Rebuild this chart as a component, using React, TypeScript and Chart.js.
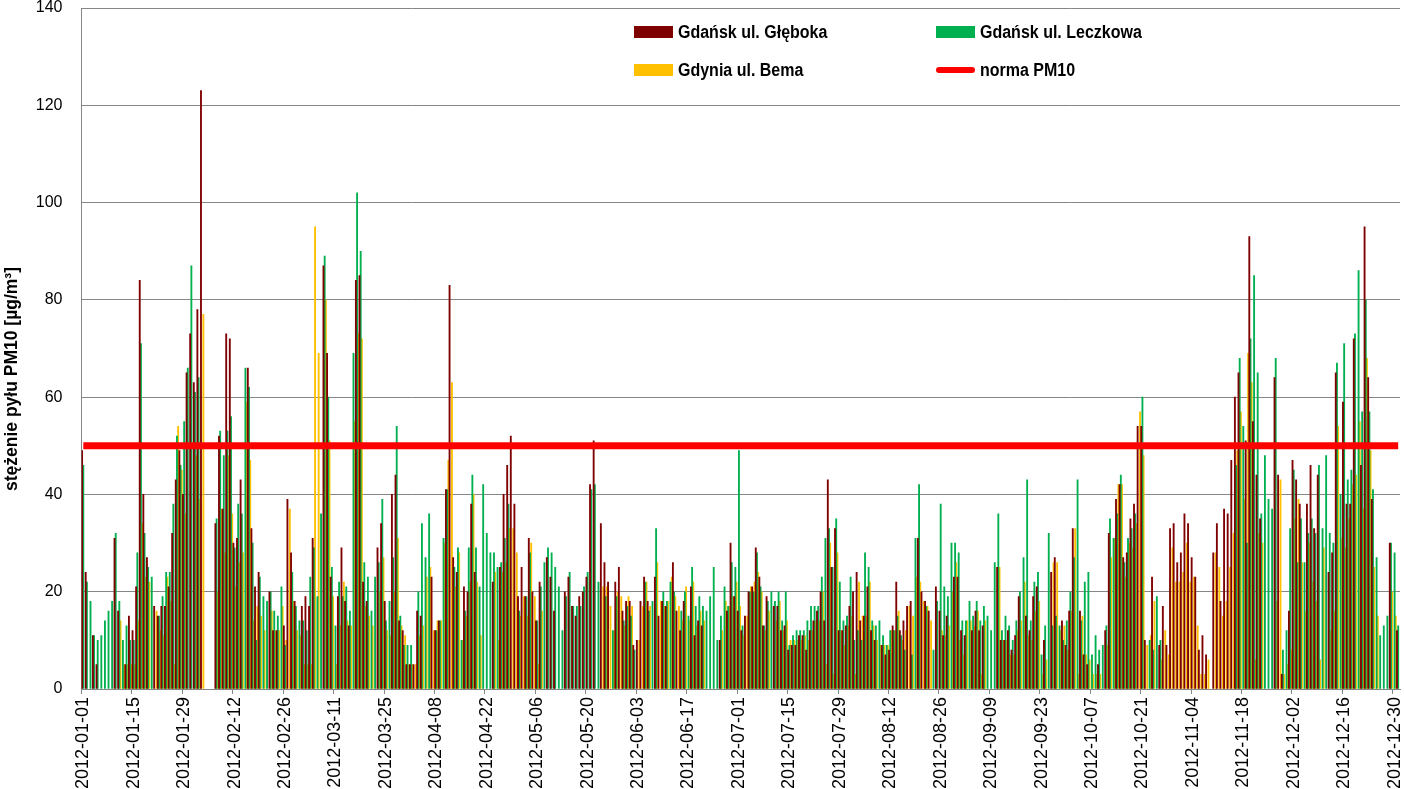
import React, { useEffect, useRef } from "react";
import { Chart, registerables } from "chart.js";

Chart.register(...registerables);

const N = null;

// Categories: every day of 2012
const START_YEAR = 2012;
const DAY_COUNT = 366;
const dayLabels: string[] = [];
for (let d = 0; d < DAY_COUNT; d++) {
  const dt = new Date(START_YEAR, 0, 1 + d);
  const mm = String(dt.getMonth() + 1).padStart(2, "0");
  const dd = String(dt.getDate()).padStart(2, "0");
  dayLabels.push(`${dt.getFullYear()}-${mm}-${dd}`);
}
const LABEL_EVERY = 14;

const seriesNames = ["Gdańsk ul. Głęboka", "Gdańsk ul. Leczkowa", "Gdynia ul. Bema"];
const normName = "norma PM10";
const normValue = 50;
const yTitle = "stężenie pyłu PM10 [µg/m³]";

// Gdańsk ul. Głęboka (daily PM10, µg/m3), by month
const gleboka = [
  // Jan
  49, 24, N, 11, 5, N, N, N, N, 31, 16, N, 5, 15, 12, 21, 84, 40, 27, N, 17, 15, 17, 17, 21, 32, 43, 49, 40, 65, 73,
  // Feb
  63, 78, 123, N, N, N, 34, 52, 37, 73, 72, 30, 31, 43, N, 66, 33, 21, 24, N, N, 20, 12, 12, N, 13, 39, 28, 18,
  // Mar
  N, 17, 19, 17, 31, N, N, 87, 69, 23, N, 19, 29, 18, 13, N, 84, 85, 22, 18, N, N, 29, 34, 18, N, 40, 44, 14, 12, 5,
  // Apr
  5, 5, 16, 15, N, N, 23, 12, 14, N, 41, 83, 27, 24, N, 21, 20, 38, 24, N, N, N, N, 22, N, 25, 40, 46, 52, 38,
  // May
  19, 25, 19, 31, 20, 14, 22, N, 27, 23, 16, N, N, 20, 23, 17, 15, 19, 20, 23, 42, 51, N, 34, 26, 22, N, 22, 25, 16, 18,
  // Jun
  18, 9, 10, 18, 23, 18, N, 23, 15, 18, 17, N, 26, 16, 12, 18, N, 21, 11, 14, 13, N, N, N, N, 10, N, 16, 30, 19,
  // Jul
  16, 12, 15, 20, 21, 29, 23, 13, 19, N, 17, 17, 12, 13, 8, 9, 9, 11, 11, 8, 12, 14, 16, 20, 14, 43, 25, 33, 12, 12, 13,
  // Aug
  17, 20, 24, 14, 15, 21, 12, 10, N, 9, 7, 8, 13, 22, 12, 14, 17, 18, N, 31, 20, 18, 16, N, 21, 16, 11, 15, N, 23, 23,
  // Sep
  12, 11, N, 12, 16, 12, 13, N, N, N, 25, 10, 10, 12, 8, 11, 19, N, 15, 12, 19, 21, N, 10, N, 24, 27, N, 14, 9,
  // Oct
  16, 33, N, 16, 7, 5, N, N, 5, N, 12, 32, N, 39, 42, 27, 28, 35, 38, 54, 54, 10, N, 23, N, 9, 17, 9, 33, 34, 26,
  // Nov
  28, 36, 34, 27, 23, 8, 11, 7, N, 28, 34, 18, 37, 36, 47, 60, 65, N, 51, 93, 55, 44, 35, N, N, N, 64, 44, 3, N,
  // Dec
  16, 47, 43, 38, N, 38, 46, 33, 44, N, N, 24, 28, 65, N, 59, 38, 38, 72, N, 46, 95, 64, 39, N, N, N, N, 30, N, 12,
];

// Gdańsk ul. Leczkowa
const leczkowa = [
  // Jan
  46, 22, 18, 11, 10, 11, 14, 16, 18, 32, 18, 10, 13, 10, 10, 28, 71, 32, 25, 23, N, 15, 19, 24, 24, 38, 52, 46, 55, 66, 87,
  // Feb
  61, 64, N, N, N, N, 35, 53, 48, 53, 56, 29, 38, 36, 66, 62, 30, 10, 23, 19, 18, 20, 16, 15, 21, 9, N, 24, 17,
  // Mar
  14, 14, 12, 23, 29, 19, 36, 89, 60, 25, 13, 22, 19, 21, 16, 69, 102, 90, 26, 23, 16, 23, 26, 39, 14, 18, 27, 54, 15, 9, 9,
  // Apr
  9, N, 20, 34, 27, 36, N, 12, 14, 31, 41, N, 25, 29, 10, 16, 29, 44, 29, 21, 42, 32, 28, 28, 25, 26, 31, 38, N, N,
  // May
  16, N, 19, 28, N, 14, 21, 26, 29, 28, 25, 21, 12, 19, 24, 17, 17, 17, 21, 24, 41, 42, 22, N, 19, N, 12, 19, N, 14, 17,
  // Jun
  15, 8, N, N, 22, 16, 18, 33, N, 20, 18, 22, 20, N, 16, 20, 15, 25, 17, 19, 17, 16, 19, 25, 10, 15, 21, 17, 26, 25,
  // Jul
  49, 13, N, 20, 20, 28, 21, 13, 18, 20, 18, 20, 14, 20, 9, 11, 12, 12, 12, 14, 17, 17, 17, 23, 31, 33, 25, 35, 22, 14, 15,
  // Aug
  23, 10, 12, 10, 28, 25, 14, 13, 14, 11, 9, 12, 12, 15, 11, 8, N, 7, 31, 42, N, 17, N, 8, 18, 38, 21, 19, 30, 30, 28,
  // Sep
  14, 14, 18, 15, 18, 14, 17, 15, 12, 26, 36, 12, 15, 13, 10, 14, 20, 27, 43, 14, 22, 24, 7, 13, 32, 13, 15, 13, 10, 14,
  // Oct
  20, 27, 43, 14, 22, 24, 7, 11, 8, 9, 13, 35, 31, 36, 44, 26, 31, 33, 36, N, 60, N, 10, 8, 19, 10, N, N, N, N, N,
  // Nov
  N, N, N, N, N, N, N, N, N, N, N, N, N, N, N, 46, 68, 54, 30, 72, 85, 65, 36, 48, 39, 37, 68, N, 8, 12,
  // Dec
  33, 45, 26, 35, 26, 32, 35, 32, 46, 33, 48, 32, 30, 67, 40, 71, 43, 45, 73, 86, 57, 80, 57, 41, 27, 11, 13, 15, 30, 28, 13,
];

// Gdynia ul. Bema
const bema = [
  // Jan
  N, N, N, N, N, N, N, N, N, N, 14, 5, 5, 5, 5, 14, 34, 23, 22, N, 16, 12, 11, 23, 18, 5, 54, 45, 36, N, N,
  // Feb
  48, 39, 77, N, N, N, 20, 37, 28, 48, 36, 21, 26, 28, 59, 47, 14, 17, 15, 12, N, 16, 12, 12, 17, 10, 37, 18, 12,
  // Mar
  11, 5, 5, 5, 95, 69, N, 80, 51, 19, 5, 13, 22, 14, 13, 55, 73, 72, 17, 15, 13, N, 20, 27, 12, 11, 20, 31, 13, 11, 5,
  // Apr
  5, 5, 11, 13, 23, 25, 12, 14, 14, 30, 47, 63, 21, 28, 10, 15, 22, 40, 22, 11, N, N, N, 24, 10, 24, 26, 33, 33, 28,
  // May
  15, 19, 15, 30, 19, 5, 16, N, N, N, N, N, N, N, N, N, N, N, N, N, N, N, N, 21, 21, 17, 12, 20, 19, 13, 19,
  // Jun
  17, N, 10, 17, 22, 17, N, 26, 18, 17, 18, 23, 19, 17, 14, 21, 14, 22, 13, 16, 14, N, N, N, N, 12, 18, 17, 19, 22,
  // Jul
  17, 11, 15, 21, 22, 24, 20, 12, 16, N, 14, 18, 12, 14, 10, 10, 10, 10, 11, 10, 12, 14, 14, 20, 5, 30, 3, 28, 12, 9, 13,
  // Aug
  15, 3, 22, 15, 15, 22, 13, 10, 9, 9, 9, 12, 12, 16, 10, 12, 17, 15, 23, 22, 18, 17, 14, N, N, 12, 11, 13, 20, 26, 10,
  // Sep
  7, 14, 14, 13, 16, 3, 14, N, N, N, 25, 10, 10, 7, 7, 12, 14, 22, 11, 10, 16, 18, 3, 6, N, 26, 26, 12, 13, 8,
  // Oct
  16, 33, 3, 15, 7, 6, 3, 3, 3, N, 9, 27, 31, 42, 42, 23, 30, 29, 34, 57, 48, 9, 11, 18, N, 6, 12, 7, 29, 22, 22,
  // Nov
  24, 30, 22, 23, 13, 3, 3, 6, N, 28, 25, 15, 18, 25, 32, 49, 57, 39, 69, 63, 6, 32, 30, N, N, N, 18, 43, 3, 5,
  // Dec
  8, 35, 39, 26, 16, 30, 22, 18, 6, 29, N, 12, 16, 54, 31, 29, 35, 42, 44, 55, 37, 68, 49, 25, 15, N, N, N, 20, 15, N,
];

const normLine = dayLabels.map(() => normValue);

const colors = {
  gleboka: "#7F0000",
  leczkowa: "#00B050",
  bema: "#FFC000",
  norm: "#FF0000",
  grid: "#868686",
};

const REGULAR = '"Liberation Sans", Arial, sans-serif';

const legendPlugin = {
  id: "customLegend",
  afterDraw(chart: any) {
    const ctx = chart.ctx;
    ctx.save();
    const items = [
      { x: 634, y: 32, kind: "box", color: colors.gleboka, text: seriesNames[0] },
      { x: 936, y: 32, kind: "box", color: colors.leczkowa, text: seriesNames[1] },
      { x: 634, y: 70, kind: "box", color: colors.bema, text: seriesNames[2] },
      { x: 936, y: 70, kind: "line", color: colors.norm, text: normName },
    ];
    for (const it of items) {
      if (it.kind === "box") {
        ctx.fillStyle = it.color;
        ctx.fillRect(it.x, it.y - 6, 39, 12);
      } else {
        ctx.strokeStyle = it.color;
        ctx.lineWidth = 6;
        ctx.lineCap = "round";
        ctx.beginPath();
        ctx.moveTo(it.x + 3, it.y);
        ctx.lineTo(it.x + 36, it.y);
        ctx.stroke();
      }
      ctx.save();
      ctx.translate(it.x + 44, it.y + 1);
      ctx.scale(1, 1.15);
      ctx.font = `bold 16px ${REGULAR}`;
      ctx.textBaseline = "middle";
      ctx.textAlign = "left";
      ctx.fillStyle = "#000";
      ctx.fillText(it.text, 0, 0);
      ctx.restore();
    }
    // y-axis title
    ctx.save();
    ctx.translate(12, 379);
    ctx.rotate(-Math.PI / 2);
    ctx.font = `bold 17.5px ${REGULAR}`;
    ctx.textBaseline = "middle";
    ctx.textAlign = "center";
    ctx.fillStyle = "#000";
    ctx.fillText(yTitle, 0, 0);
    ctx.restore();
    ctx.restore();
  },
};

export default function App() {
  const canvasRef = useRef<HTMLCanvasElement | null>(null);

  useEffect(() => {
    if (!canvasRef.current) return;
    const chart = new Chart(canvasRef.current, {
      type: "bar",
      data: {
        labels: dayLabels,
        datasets: [
          {
            type: "line",
            label: normName,
            data: normLine,
            borderColor: colors.norm,
            borderWidth: 7,
            pointRadius: 0,
            order: 0,
          } as any,
          {
            label: seriesNames[0],
            data: gleboka,
            backgroundColor: colors.gleboka,
            categoryPercentage: 1,
            barPercentage: 1,
            order: 1,
          },
          {
            label: seriesNames[1],
            data: leczkowa,
            backgroundColor: colors.leczkowa,
            categoryPercentage: 1,
            barPercentage: 1,
            order: 1,
          },
          {
            label: seriesNames[2],
            data: bema,
            backgroundColor: colors.bema,
            categoryPercentage: 1,
            barPercentage: 1,
            order: 1,
          },
        ],
      },
      options: {
        responsive: false,
        animation: false,
        events: [],
        layout: { autoPadding: false, padding: { top: 8, right: 4, left: 0, bottom: 0 } },
        plugins: {
          legend: { display: false },
          tooltip: { enabled: false },
        },
        scales: {
          x: {
            type: "category",
            offset: true,
            afterFit(scale: any) {
              scale.height = 100;
              scale.paddingLeft = 0;
              scale.paddingRight = 0;
            },
            border: { color: colors.grid, width: 1 },
            grid: {
              offset: true,
              drawOnChartArea: false,
              drawTicks: true,
              tickLength: 5,
              color: (c: any) => (c.index % LABEL_EVERY === 0 ? colors.grid : "rgba(0,0,0,0)"),
            },
            ticks: {
              autoSkip: false,
              minRotation: 90,
              maxRotation: 90,
              padding: 3,
              color: "#000",
              font: { family: REGULAR, size: 18 },
              callback: (_v: any, i: number) => (i % LABEL_EVERY === 0 ? dayLabels[i] : ""),
            },
          },
          y: {
            min: 0,
            max: 140,
            afterFit(scale: any) {
              scale.width = 81.5;
              scale.paddingTop = 0;
              scale.paddingBottom = 0;
            },
            border: { color: colors.grid, width: 1 },
            grid: { color: colors.grid, drawTicks: false },
            ticks: {
              stepSize: 20,
              padding: 19,
              color: "#000",
              font: { family: REGULAR, size: 16 },
            },
            title: { display: false },
          },
        },
      },
      plugins: [legendPlugin],
    });
    return () => chart.destroy();
  }, []);

  return (
    <div style={{ position: "absolute", left: 0, top: 0, width: 1404, height: 789, overflow: "hidden", background: "#fff" }}>
      <canvas ref={canvasRef} width={1404} height={789} />
    </div>
  );
}
